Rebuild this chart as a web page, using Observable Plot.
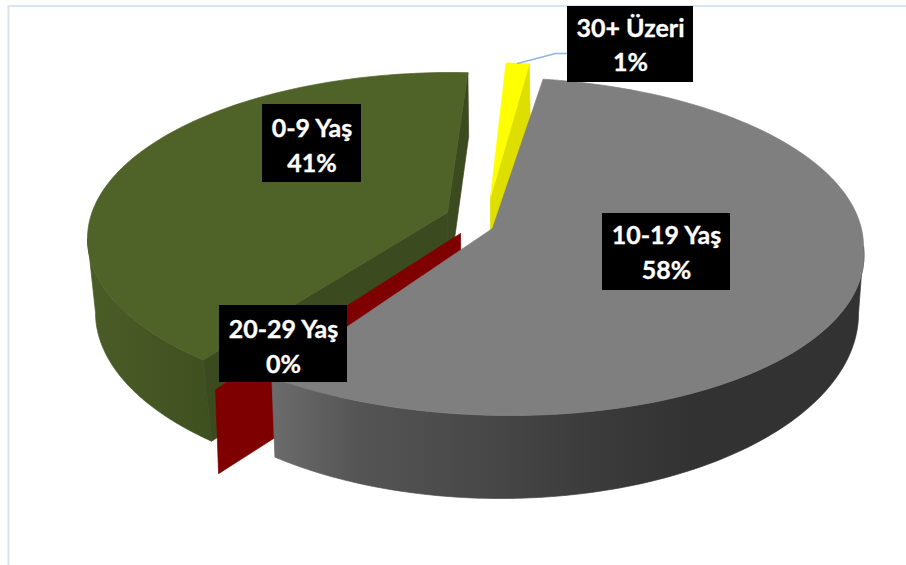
<!DOCTYPE html>
<html><head><meta charset="utf-8">
<style>html,body{margin:0;padding:0;background:#fff}svg{display:block}</style>
<script src="https://cdn.jsdelivr.net/npm/d3@7"></script>
<script src="https://cdn.jsdelivr.net/npm/@observablehq/plot@0.6"></script>
</head><body><div id="chart"></div>
<script>
// Data, in clockwise drawing order around the pie
const categories = ["0-9 Yaş", "30+ Üzeri", "10-19 Yaş", "20-29 Yaş"];
const shares = [41, 1, 58, 0];
const sliverShare = 0.15; // a zero slice still shows as a thin plate

// Tilted, exploded disc of each slice: upper rim, lower rim, apex. The fifth rim value leans the front half.
const disc = {
  "0-9 Yaş":  {top:[451,238,364,166,0], bot:[460,312,365,176,0], apex:[447,212], apexB:[447,289], trim:[6.6,-1.2], topC:"#4f6228", faceC:"#3b4a1f",
               side:{id:"wall-green",x:[95,211],c:["#4a5c26","#3f5020"]}},
  "30+ Üzeri":{top:[481,230,372,168,0], bot:[482,287,372,168,0], apex:[490,197], apexB:[490,262], trim:[0,0], topC:"#ffff00", faceC:"#dede00"},
  "10-19 Yaş":{top:[491,246,372,169,19], bot:[500,313,358,185,0], apex:[492,228], apexB:[492,300], trim:[0.6,3.2], topC:"#7f7f7f",
               side:{id:"wall-gray",x:[270,360,493,593,693],c:["#6c6c6c","#545454","#474747","#3b3b3b","#323232"]}},
  "20-29 Yaş":{top:[433,253,372,168,0], bot:[436,337,372,168,0], apex:[460,233], apexB:[461,318], trim:[0,0], topC:"#7f0000", faceC:"#7f0000"}
};
const firstAngle = 216.4; // degrees clockwise from the back of the disc
const labelBoxes = [
  {name:"0-9 Yaş",  x1:262,x2:361,y1:104,y2:182,l1:128,l2:163},
  {name:"10-19 Yaş",x1:602,x2:730,y1:213,y2:290,l1:235,l2:270},
  {name:"20-29 Yaş",x1:219,x2:347,y1:305,y2:382,l1:329,l2:364},
  {name:"30+ Üzeri",x1:567,x2:693,y1:6,y2:82,l1:28,l2:62}
];
const leader = [{x:517,y:63},{x:555,y:53},{x:567,y:53}];

const arcs = d3.pie().sort(null).value(d => d.v).startAngle(firstAngle*Math.PI/180).endAngle((firstAngle+360)*Math.PI/180)(
  categories.map((c,i)=>({c, v: shares[i] || sliverShare})));
const arcOf = Object.fromEntries(arcs.map(a=>[a.data.c,a]));
const rim = (e,deg)=>{const t=deg*Math.PI/180,c=Math.cos(t);return [e[0]+e[2]*Math.sin(t)+e[4]*Math.max(0,-c), e[1]-e[3]*c];};
const span = name => {const a=arcOf[name], d=disc[name];
  return [a.startAngle*180/Math.PI+d.trim[0], a.endAngle*180/Math.PI+d.trim[1]];};

const polys=[]; let id=0;
const add=(pts,color)=>{id++;[...pts,pts[0]].forEach(p=>polys.push({x:p[0],y:p[1],id,color}));};
const range=(a,b,n=120)=>d3.range(n+1).map(i=>a+(b-a)*i/n);
function topFace(name){const d=disc[name],[a,b]=span(name);add([d.apex,...range(a,b).map(t=>rim(d.top,t))],d.topC);}
function wall(name,from,to){const d=disc[name],ts=range(from,to);
  add([...ts.map(t=>rim(d.top,t)),...ts.slice().reverse().map(t=>rim(d.bot,t))],`url(#${d.side.id})`);}
function face(name,deg,botShift=0){const d=disc[name];add([d.apex,rim(d.top,deg),rim(d.bot,deg+botShift),d.apexB],d.faceC);}

// Horizontal shading of the outer walls
const wallGradients = () => {
  const defs = d3.create("svg:defs");
  Object.values(disc).filter(d=>d.side).forEach(d=>{
    const g = defs.append("linearGradient").attr("id",d.side.id).attr("gradientUnits","userSpaceOnUse")
      .attr("x1",d.side.x[0]).attr("x2",d.side.x[d.side.x.length-1]).attr("y1",0).attr("y2",0);
    const span = d.side.x[d.side.x.length-1]-d.side.x[0];
    d.side.x.forEach((x,i)=>g.append("stop").attr("offset",(x-d.side.x[0])/span).attr("stop-color",d.side.c[i]));
  });
  return defs.node();
};

// Back to front
let [gs,ge]=span("0-9 Yaş");
wall("0-9 Yaş",gs,270);
face("0-9 Yaş",gs); face("0-9 Yaş",ge,-1.3);
topFace("0-9 Yaş");
let [ys,ye]=span("30+ Üzeri");
face("30+ Üzeri",ye); topFace("30+ Üzeri");
let [rs,re]=span("20-29 Yaş");
face("20-29 Yaş",rs);
let [ss,se]=span("10-19 Yaş");
wall("10-19 Yaş",450,se);
topFace("10-19 Yaş");

const pct = d3.format(".0f");
const shareOf = Object.fromEntries(categories.map((c,i)=>[c,shares[i]]));
const textRows = labelBoxes.flatMap(b=>[
  {x:(b.x1+b.x2)/2,y:b.l1,t:b.name},
  {x:(b.x1+b.x2)/2,y:b.l2,t:pct(shareOf[b.name])+"%"}]);

const chart = Plot.plot({
  width:906,height:565,margin:0,
  x:{domain:[0,906],range:[0,906],axis:null},
  y:{domain:[0,565],range:[0,565],axis:null},
  color:{type:"identity"},
  style:{background:"#fff"},
  marks:[
    wallGradients,
    Plot.ruleX([8],{y1:5,y2:565,stroke:"#d7e4f3",strokeWidth:2}),
    Plot.ruleY([5.5],{x1:8,x2:906,stroke:"#d7e4f3",strokeWidth:2}),
    Plot.line(polys,{x:"x",y:"y",z:"id",fill:"color",stroke:"color",strokeWidth:0.7,curve:"linear"}),
    Plot.line(leader,{x:"x",y:"y",stroke:"#8db4e2",strokeWidth:1.3}),
    Plot.rect(labelBoxes,{x1:"x1",x2:"x2",y1:"y1",y2:"y2",fill:"#000",inset:0}),
    Plot.text(textRows,{x:"x",y:"y",text:"t",fill:"#fff",stroke:"#fff",strokeWidth:0.35,fontSize:25,fontWeight:700,fontFamily:"Lato",lineAnchor:"middle"})
  ]
});
document.getElementById("chart").append(chart);
</script></body></html>
